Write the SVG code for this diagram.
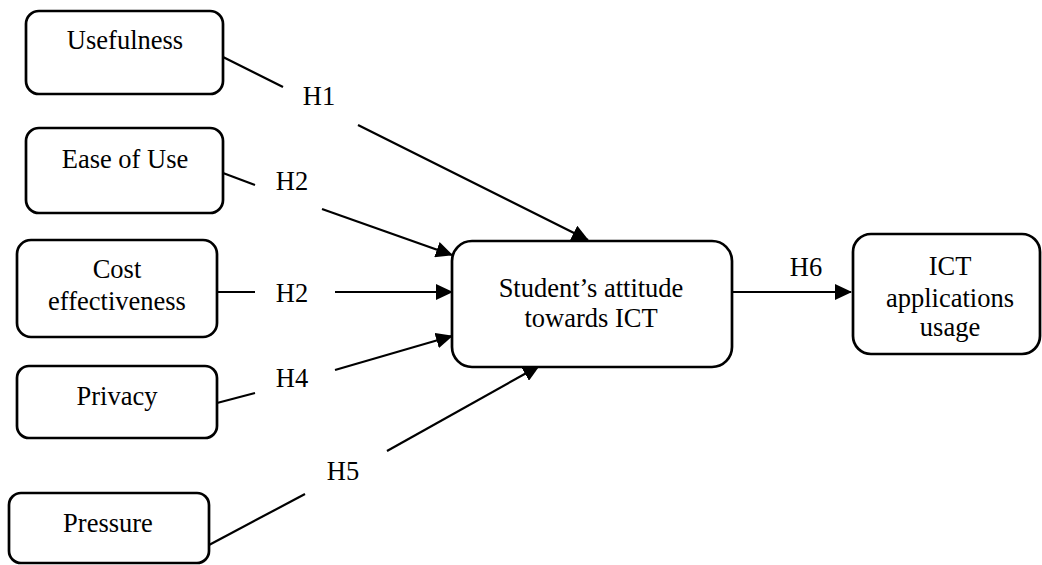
<svg xmlns="http://www.w3.org/2000/svg" width="1042" height="565" viewBox="0 0 1042 565">
<defs>
<style>
.box{fill:#fff;stroke:#000;stroke-width:2.7}
.t{font-size:26.5px;fill:#000;text-anchor:middle}
.c{stroke:#000;stroke-width:2.2;fill:none}
.a{marker-end:url(#arr)}
</style>
<marker id="arr" markerUnits="userSpaceOnUse" markerWidth="18" markerHeight="16" refX="16" refY="8" orient="auto">
<path d="M0,0 L17,8 L0,16 Z" fill="#000"/>
</marker>
</defs>
<rect width="1042" height="565" fill="#fff"/>
<g font-family="Liberation Serif, Tinos, Times New Roman, DejaVu Serif, serif">
<g id="connectors">
<line class="c" x1="223" y1="57" x2="283" y2="87"/>
<line class="c a" x1="358" y1="125" x2="588" y2="240"/>
<text class="t" x="319" y="105">H1</text>
<line class="c" x1="223" y1="173" x2="255" y2="185"/>
<line class="c a" x1="322" y1="209" x2="452" y2="255"/>
<text class="t" x="292" y="190">H2</text>
<line class="c" x1="217" y1="292" x2="255" y2="292"/>
<line class="c a" x1="335" y1="292" x2="452" y2="292"/>
<text class="t" x="292" y="302">H2</text>
<line class="c" x1="217" y1="403" x2="255" y2="393"/>
<line class="c a" x1="335" y1="370" x2="452" y2="336"/>
<text class="t" x="292" y="387">H4</text>
<line class="c" x1="209" y1="545" x2="305" y2="494"/>
<line class="c a" x1="387" y1="451" x2="539" y2="366"/>
<text class="t" x="343" y="480">H5</text>
<line class="c a" x1="732" y1="292" x2="851" y2="292"/>
<text class="t" x="806" y="276">H6</text>
</g>
<g id="usefulness">
<rect class="box" x="26" y="11" width="197" height="83" rx="13"/>
<text class="t" x="125" y="49">Usefulness</text>
</g>
<g id="ease">
<rect class="box" x="26" y="128" width="197" height="85" rx="13"/>
<text class="t" x="125" y="168">Ease of Use</text>
</g>
<g id="cost">
<rect class="box" x="17" y="240" width="200" height="97" rx="14"/>
<text class="t" x="117" y="278">Cost</text>
<text class="t" x="117" y="310">effectiveness</text>
</g>
<g id="privacy">
<rect class="box" x="17" y="366" width="200" height="72" rx="12"/>
<text class="t" x="117" y="405">Privacy</text>
</g>
<g id="pressure">
<rect class="box" x="9" y="493" width="200" height="70" rx="12"/>
<text class="t" x="108" y="532">Pressure</text>
</g>
<g id="attitude">
<rect class="box" x="452" y="241" width="280" height="126" rx="20"/>
<text class="t" x="591" y="297">Student’s attitude</text>
<text class="t" x="591" y="327">towards ICT</text>
</g>
<g id="ict">
<rect class="box" x="853" y="234" width="187" height="120" rx="18"/>
<text class="t" x="950" y="275">ICT</text>
<text class="t" x="950" y="307">applications</text>
<text class="t" x="950" y="336">usage</text>
</g>
</g>
</svg>
